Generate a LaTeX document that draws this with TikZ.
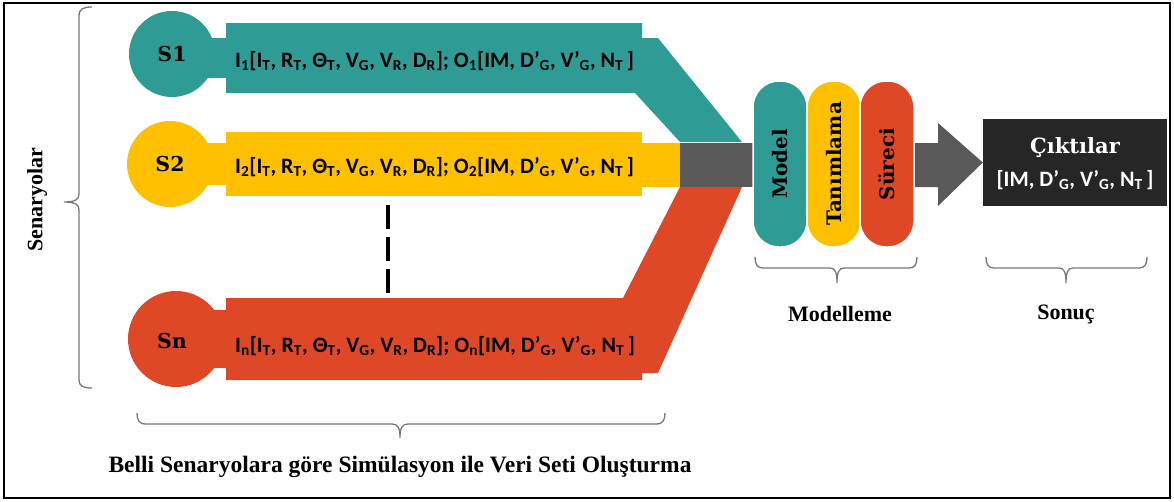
\documentclass[tikz,border=0pt]{standalone}
\usepackage{fontspec}
\usepackage{graphicx}
\setmainfont{Liberation Serif}
\newfontfamily\calib{Carlito}
\newfontfamily\georg{DejaVu Serif}
\usetikzlibrary{calc}
\definecolor{tealc}{RGB}{46,155,149}
\definecolor{goldc}{RGB}{255,192,0}
\definecolor{redc}{RGB}{222,72,38}
\definecolor{barc}{RGB}{89,89,89}
\definecolor{boxc}{RGB}{38,38,38}
\definecolor{bracec}{RGB}{120,120,120}
\newcommand\sbt[1]{\textsubscript{#1}}
\newcommand\rowtext[1]{I\sbt{#1}[I\sbt{T}, R\sbt{T}, Θ\sbt{T}, V\sbt{G}, V\sbt{R}, D\sbt{R}]; O\sbt{#1}[IM, D’\sbt{G}, V’\sbt{G}, N\sbt{T}\,]}
\begin{document}
\begin{tikzpicture}[x=1pt,y=-1pt,
  bandtxt/.style={font=\calib\bfseries\fontsize{22}{26}\selectfont, anchor=base west, inner sep=0},
  slabel/.style={circle, inner sep=0},
  stxt/.style={font=\georg\bfseries\fontsize{20.5}{24}\selectfont},
  pill/.style={draw=white, line width=1.5pt, rounded corners=26pt, minimum width=54pt, minimum height=166pt, inner sep=0, font=\georg\bfseries\fontsize{20}{24}\selectfont},
  bracepath/.style={draw=bracec, line width=1.3pt},
  captxt/.style={font=\bfseries\fontsize{22}{26}\selectfont, inner sep=0}]
\useasboundingbox (0,0) rectangle (1174,501);
% frame
\draw[line width=1.5pt] (4,3) rectangle (1170,498);

% left brace
\draw[bracepath] (92,7) .. controls (83,7) and (79,9) .. (79,16) -- (79,194)
  .. controls (79,199) and (76,202) .. (64,202) .. controls (76,202) and (79,205) .. (79,210)
  -- (79,380) .. controls (79,386) and (83,388) .. (92,388);
\node[captxt, rotate=90] (senar) at (37,200) {Senaryolar};

% teal row
\fill[tealc] (226,23) -- (642,23) -- (642,38) -- (658,38) -- (742,142) -- (680,142) -- (635,93) -- (226,93) -- cycle;
\fill[tealc] (172,38) rectangle (226,78);
\node[slabel, fill=tealc, minimum size=86pt] (s1) at (172,54) {};
\node[stxt] (s1t) at (s1) {S1};
\node[bandtxt] (t1) at (235,67) {\rowtext{1}};

% yellow row
\fill[goldc] (226,132) rectangle (642,196);
\fill[goldc] (642,143) rectangle (680,187);
\fill[goldc] (171,143) rectangle (226,185);
\node[slabel, fill=goldc, minimum size=86pt] (s2) at (170,164) {};
\node[stxt] (s2t) at (s2) {S2};
\node[bandtxt] (t2) at (235,173) {\rowtext{2}};

% red row
\fill[redc] (226,298) -- (623,298) -- (680,187) -- (742,187) -- (658,373) -- (642,373) -- (642,380) -- (226,380) -- cycle;
\fill[redc] (176,310) rectangle (226,368);
\node[slabel, fill=redc, minimum size=96pt] (sn) at (176,339) {};
\node[stxt] (snt) at (172,341) {Sn};
\node[bandtxt] (tn) at (235,352) {\rowtext{n}};

% dashes
\coordinate (d1) at (388,205);
\coordinate (d2) at (388,293);
\draw[line width=4.5pt, dash pattern=on 24pt off 8pt] (d1) -- (d2);

% gray bar and arrow
\fill[barc] (680,143) rectangle (760,187);
\node[fill=boxc, minimum width=184pt, minimum height=87pt, inner sep=0] (out) at (1075,162.5) {};
\fill[barc] (900,143) -- (938,143) -- (938,123) -- (out.west) -- (938,206) -- (938,187) -- (900,187) -- cycle;

% pills
\node[pill, fill=tealc] (model) at (780,164) {\rotatebox{90}{Model}};
\node[pill, fill=goldc] (tanim) at (834,164) {\rotatebox{90}{Tanımlama}};
\node[pill, fill=redc] (surec) at (887,164) {\rotatebox{90}{Süreci}};

% output text
\node[text=white, font=\georg\bfseries\fontsize{21}{25}\selectfont] (o1) at (1075,148) {Çıktılar};
\node[text=white, font=\calib\bfseries\fontsize{22}{26}\selectfont] (o2) at (1075,180) {[IM, D’\sbt{G}, V’\sbt{G}, N\sbt{T}\,]};

% modelleme brace
\draw[bracepath] (755,257) .. controls (755,264) and (757,268) .. (763,268) -- (830,268)
  .. controls (835,268) and (837,272) .. (837,283) .. controls (837,272) and (839,268) .. (844,268)
  -- (909,268) .. controls (915,268) and (917,264) .. (917,257);
\node[captxt] (modl) at (840,314) {Modelleme};
% sonuc brace
\draw[bracepath] (986,257) .. controls (986,264) and (988,268) .. (994,268) -- (1059,268)
  .. controls (1064,268) and (1066,272) .. (1066,283) .. controls (1066,272) and (1068,268) .. (1073,268)
  -- (1139,268) .. controls (1145,268) and (1147,264) .. (1147,257);
\node[captxt] (son) at (1066,314) {Sonuç};
% bottom brace
\draw[bracepath] (137,413) .. controls (137,420) and (139,424) .. (146,424) -- (392,424)
  .. controls (398,424) and (400,428) .. (400,438) .. controls (400,428) and (402,424) .. (408,424)
  -- (656,424) .. controls (663,424) and (665,420) .. (665,413);
\node[captxt, font=\bfseries\fontsize{23.5}{28}\selectfont] (belli) at (400,467) {Belli Senaryolara göre Simülasyon ile Veri Seti Oluşturma};
\end{tikzpicture}
\end{document}
